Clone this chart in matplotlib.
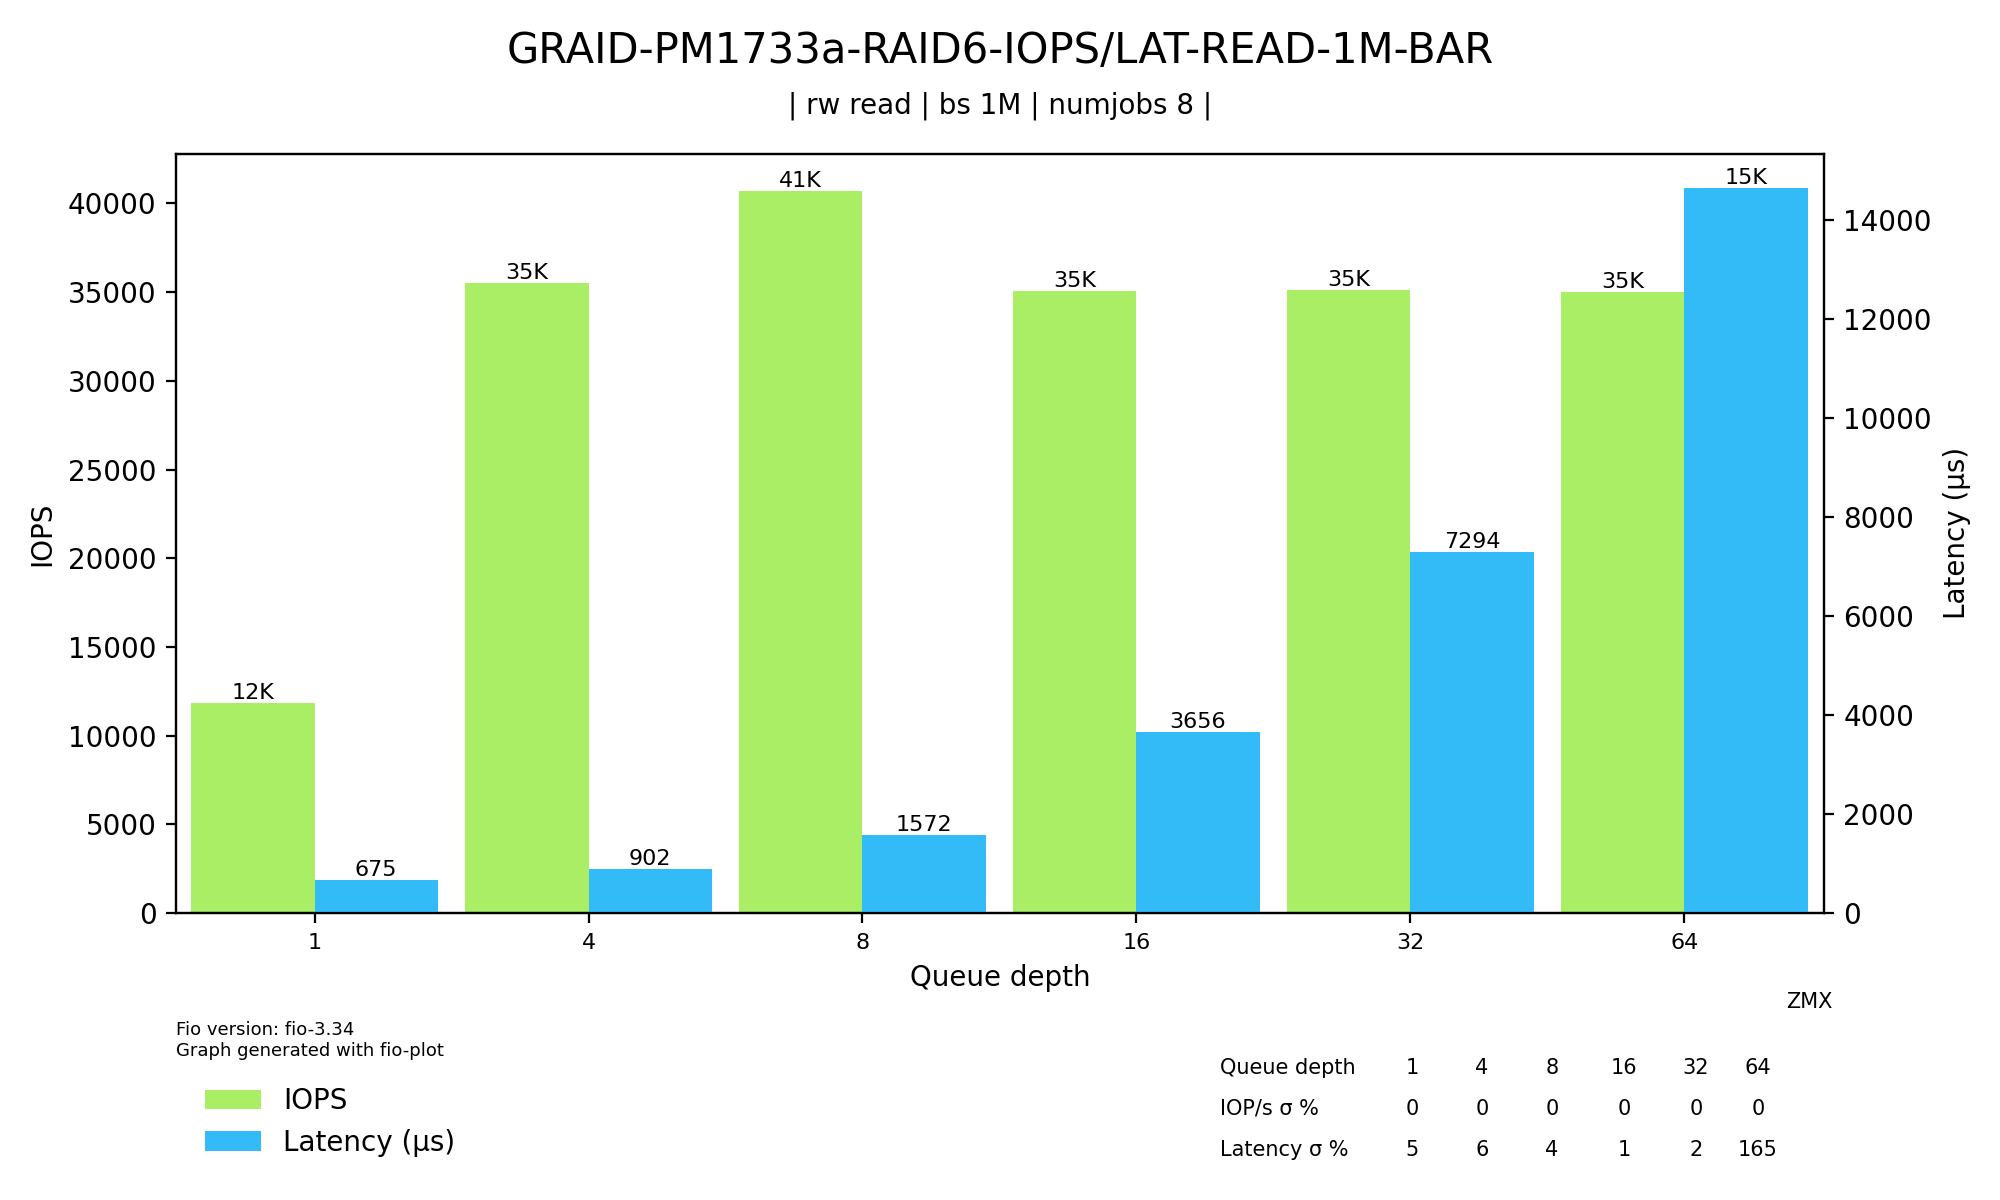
import matplotlib
matplotlib.use("Agg")
import matplotlib.pyplot as plt
import numpy as np

depths = ["1", "4", "8", "16", "32", "64"]
iops = [11850, 35500, 40700, 35050, 35100, 35000]
iops_labels = ["12K", "35K", "41K", "35K", "35K", "35K"]
lat = [675, 902, 1572, 3656, 7294, 14650]
lat_labels = ["675", "902", "1572", "3656", "7294", "15K"]
iops_sd = ["0", "0", "0", "0", "0", "0"]
lat_sd = ["5", "6", "4", "1", "2", "165"]

fig = plt.figure(figsize=(10, 6), dpi=200)
ax = fig.add_axes([0.088, 0.239, 0.824, 0.633])
ax2 = ax.twinx()
x = np.arange(len(depths))
w = 0.45
b1 = ax.bar(x - w/2, iops, w, color="#aaee66", label="IOPS")
b2 = ax2.bar(x + w/2, lat, w, color="#33bbf8", label="Latency (µs)")
for r, t in zip(b1, iops_labels):
    ax.text(r.get_x() + r.get_width()/2, r.get_height(), t, ha="center", va="bottom", fontsize=8)
for r, t in zip(b2, lat_labels):
    ax2.text(r.get_x() + r.get_width()/2, r.get_height(), t, ha="center", va="bottom", fontsize=8)
ax.set_xlim(-0.506, 5.51)
ax.set_ylim(0, 42800)
ax2.set_ylim(0, 15340)
ax.set_xticks(x)
ax.set_xticklabels(depths, fontsize=8)
ax.set_xlabel("Queue depth")
ax.set_ylabel("IOPS")
ax2.set_ylabel("Latency (µs)")

fig.suptitle("GRAID-PM1733a-RAID6-IOPS/LAT-READ-1M-BAR", fontsize=15, y=0.975)
fig.text(0.5, 0.905, "| rw read | bs 1M | numjobs 8 |", ha="center", fontsize=10)
fig.text(0.088, 0.12, "Fio version: fio-3.34\nGraph generated with fio-plot", fontsize=6.5)
fig.text(0.893, 0.16, "ZMX", fontsize=7.5)
fig.legend(handles=[b1, b2], loc="upper left", bbox_to_anchor=(0.09, 0.115), frameon=False, fontsize=10)

rows = [["Queue depth"] + depths, ["IOP/s σ %"] + iops_sd, ["Latency σ %"] + lat_sd]
cols_x = [0.61, 0.706, 0.741, 0.776, 0.812, 0.848, 0.879]
ys = [0.11, 0.076, 0.042]
for row, yy in zip(rows, ys):
    for j, (cx, t) in enumerate(zip(cols_x, row)):
        fig.text(cx, yy, t, fontsize=7.5, ha="left" if j == 0 else "center", va="center")

fig.savefig("out.png")
